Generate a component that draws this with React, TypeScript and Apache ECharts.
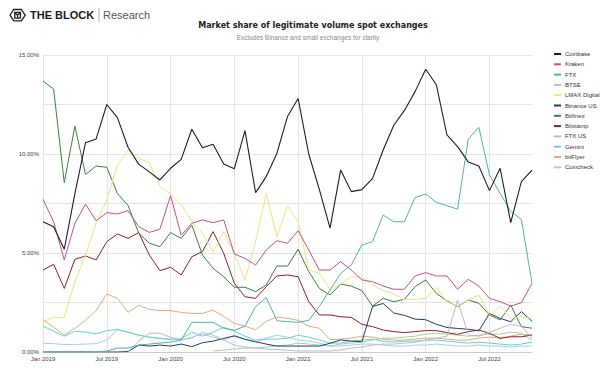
import React, { useEffect, useRef } from "react";
import * as echarts from "echarts";

const months: string[] = [
  "Jan 2019","Feb 2019","Mar 2019","Apr 2019","May 2019","Jun 2019","Jul 2019","Aug 2019","Sep 2019","Oct 2019","Nov 2019","Dec 2019",
  "Jan 2020","Feb 2020","Mar 2020","Apr 2020","May 2020","Jun 2020","Jul 2020","Aug 2020","Sep 2020","Oct 2020","Nov 2020","Dec 2020",
  "Jan 2021","Feb 2021","Mar 2021","Apr 2021","May 2021","Jun 2021","Jul 2021","Aug 2021","Sep 2021","Oct 2021","Nov 2021","Dec 2021",
  "Jan 2022","Feb 2022","Mar 2022","Apr 2022","May 2022","Jun 2022","Jul 2022","Aug 2022","Sep 2022","Oct 2022","Nov 2022",
];

const yTicks = [0, 5, 10, 15];

const coinbase = [6.58, 6.33, 5.19, 8.0, 10.57, 10.76, 12.5, 11.84, 10.34, 9.49, 9.1, 8.69,
  9.28, 9.73, 11.25, 10.32, 10.49, 9.49, 9.26, 11.18, 8.05, 8.86, 10.03, 11.89,
  12.8, 10.0, 8.2, 6.26, 9.19, 8.1, 8.2, 8.77, 10.2, 11.45, 12.2, 13.15,
  14.28, 13.5, 10.96, 10.37, 9.6, 9.39, 8.15, 9.28, 6.53, 8.6, 9.19];
const kraken = [7.71, 6.58, 4.65, 6.5, 7.47, 6.63, 7.04, 6.97, 7.14, 6.33, 6.04, 6.2,
  7.9, 5.9, 6.5, 6.67, 6.53, 6.67, 4.95, 4.73, 4.39, 5.15, 5.62, 5.49,
  6.13, 5.15, 4.14, 4.14, 4.56, 4.14, 3.64, 3.55, 3.33, 3.17, 3.17, 3.84,
  4.01, 3.84, 3.84, 3.17, 3.67, 3.33, 2.71, 2.54, 2.32, 2.49, 3.47];
const ftx = [0, 0, 0, 0, 0, 0, 0.05, 0.2, 0.2, 0.35, 0.4, 0.45,
  0.5, 0.6, 1.5, 1.5, 1.5, 1.2, 1.1, 1.3, 2.29, 2.75, 1.58, 1.53,
  1.5, 1.6, 2.3, 3.13, 3.97, 4.4, 5.4, 5.57, 6.92, 6.58, 6.58, 7.8,
  7.98, 7.56, 7.39, 7.21, 10.74, 11.35, 8.94, 8.01, 7.1, 6.7, 3.47];
const btse = [null, null, null, null, null, null, null, null, 0.02, 0.55, 0.95, 0.95,
  0.75, 0.62, 0.7, 1.0, 0.85, 0.6, 0.35, 0.25, 0.2, 0.15, 0.12, 0.08,
  0.05, 0.05, 0.05, 0.05, 0.1, 0.2, 0.25, 0.35, 0.4, 0.4, 0.45, 0.5,
  0.6, 0.7, 0.8, 2.63, 0.85, 0.8, 1.0, 1.2, 1.4, 1.3, 0.7];
const lmax = [1.53, 1.75, 1.75, 3.55, 4.9, 6.53, 7.68, 9.44, 10.2, 9.78, 9.56, 8.35,
  7.98, 7.45, 6.6, 6.0, 5.07, 6.08, 4.98, 3.64, 5.6, 8.0, 5.82, 7.37,
  6.58, 4.14, 3.97, 3.13, 3.43, 3.8, 3.77, 3.38, 3.1, 2.93, 2.63, 2.66,
  2.71, 3.27, 2.54, 2.32, 2.63, 2.88, 1.87, 2.32, 1.7, 1.78, 1.7];
const binanceUS = [0, 0, 0, 0, 0, 0, 0, 0, 0.02, 0.35, 0.3, 0.35,
  0.3, 0.4, 0.27, 0.47, 0.55, 0.69, 0.81, 0.64, 0.52, 0.4, 0.3, 0.3,
  0.3, 0.3, 0.3, 0.44, 0.61, 0.55, 0.52, 2.3, 2.45, 1.97, 1.85, 1.66,
  1.63, 1.4, 1.24, 1.19, 1.15, 1.07, 1.95, 1.7, 1.53, 2.04, 1.55];
const bitfinex = [13.69, 13.28, 8.55, 11.41, 8.97, 9.39, 9.33, 8.01, 7.4, 6.0, 5.5, 5.32,
  6.03, 5.74, 6.41, 4.9, 4.23, 3.8, 3.27, 3.27, 3.05, 3.38, 4.34, 4.34,
  5.19, 4.06, 3.21, 2.88, 3.43, 3.33, 3.1, 2.32, 2.71, 2.54, 2.66, 3.3,
  3.64, 2.96, 2.58, 2.29, 2.63, 2.46, 1.87, 1.62, 2.37, 1.28, 1.2];
const bitstamp = [4.14, 4.43, 3.21, 4.68, 4.85, 4.65, 5.57, 5.96, 5.74, 6.03, 4.9, 4.11,
  4.28, 3.89, 4.81, 5.07, 6.08, 4.98, 3.47, 2.79, 2.71, 3.3, 3.84, 3.89,
  3.8, 2.54, 1.87, 1.87, 1.78, 1.75, 1.4, 1.28, 1.11, 1.03, 0.98, 1.03,
  1.08, 1.08, 0.98, 0.89, 1.03, 1.11, 0.94, 0.69, 0.77, 0.77, 0.86];
const ftxUS = [null, null, null, null, null, null, null, null, null, null, null, null,
  null, null, null, null, 0.05, 0.1, 0.15, 0.2, 0.2, 0.25, 0.3, 0.35,
  0.45, 0.4, 0.35, 0.3, 0.4, 0.45, 0.5, 0.6, 0.7, 0.7, 0.75, 0.8,
  0.9, 0.95, 0.9, 0.85, 0.8, 0.85, 0.9, 0.9, 1.0, 0.95, 0.6];
const gemini = [1.31, 1.05, 0.8, 1.05, 1.0, 0.92, 1.08, 1.14, 1.0, 0.85, 0.75, 0.68,
  0.64, 0.67, 1.0, 0.8, 1.0, 1.25, 1.05, 0.8, 0.6, 0.65, 0.65, 0.7,
  0.85, 0.75, 0.6, 0.45, 0.45, 0.55, 0.6, 0.65, 0.55, 0.5, 0.55, 0.55,
  0.6, 0.6, 0.55, 0.5, 0.45, 0.5, 0.45, 0.4, 0.35, 0.4, 0.5];
const bitFlyer = [1.62, 1.25, 0.86, 1.2, 1.6, 2.09, 2.93, 2.71, 2.0, 2.36, 2.15, 2.09,
  2.09, 2.0, 1.95, 1.95, 2.12, 1.8, 1.45, 1.3, 1.12, 1.55, 1.77, 1.7,
  1.6, 1.3, 1.2, 0.62, 0.65, 0.7, 0.8, 0.75, 0.65, 0.6, 0.6, 0.65,
  0.7, 0.7, 0.65, 0.6, 0.6, 0.7, 0.75, 0.7, 0.8, 0.9, 0.85];
const coincheck = [0.44, 0.42, 0.38, 0.38, 0.4, 0.42, 0.6, 1.12, 1.0, 0.85, 0.75, 0.7,
  0.65, 0.6, 0.75, 0.9, 0.75, 0.6, 0.85, 0.65, 0.5, 0.7, 0.85, 0.75,
  0.6, 0.55, 0.45, 0.3, 0.3, 0.35, 0.4, 0.4, 0.35, 0.3, 0.3, 0.35,
  0.35, 0.4, 0.35, 0.3, 0.3, 0.35, 0.3, 0.3, 0.25, 0.3, 0.3];

const seriesNames = ["Coinbase", "Kraken", "FTX", "BTSE", "LMAX Digital", "Binance US", "Bitfinex", "Bitstamp", "FTX US", "Gemini", "bitFlyer", "Coincheck"];
const seriesData = [coinbase, kraken, ftx, btse, lmax, binanceUS, bitfinex, bitstamp, ftxUS, gemini, bitFlyer, coincheck];
const seriesColors = ["#1c1c2a", "#c4527f", "#4db3a6", "#b9b9d0", "#ece47c", "#1f3b6a", "#3f7d3a", "#8f1f24", "#9bd69a", "#5fd3d6", "#e9a57c", "#a7cde2"];

echarts.graphic.registerShape(
  "blocklogo",
  echarts.graphic.extendPath(
    "M4 0 L12 0 L16 6 L12 12 L4 12 L0 6 Z M5 3 L11 3 L11 9 L5 9 Z M5 3 L8 6 L11 3 M8 6 L8 9",
    {}
  ) as any
);

export default function App() {
  const ref = useRef<HTMLDivElement>(null);
  useEffect(() => {
    if (!ref.current) return;
    const chart = echarts.init(ref.current, undefined, { renderer: "svg" });
    const font = "'Liberation Sans', Arial, sans-serif";
    chart.setOption({
      animation: false,
      backgroundColor: "#ffffff",
      textStyle: { fontFamily: font },
      graphic: [
        {
          type: "blocklogo",
          x: 10,
          y: 9.5,
          scaleX: 0.95,
          scaleY: 0.95,
          style: { fill: "none", stroke: "#222", lineWidth: 1.4 },
        },
        {
          type: "text",
          left: 30,
          top: 9,
          style: { text: "THE BLOCK", fill: "#1a1a1a", font: `bold 11px ${font}` },
        },
        {
          type: "line",
          shape: { x1: 99, y1: 8, x2: 99, y2: 22 },
          style: { stroke: "#999", lineWidth: 0.8 },
        },
        {
          type: "text",
          left: 103,
          top: 9,
          style: { text: "Research", fill: "#555", font: `11px ${font}` },
        },
        {
          type: "text",
          x: 308,
          y: 37.5,
          style: {
            text: "Excludes Binance and small exchanges for clarity",
            fill: "#8a8a8a",
            font: `6.5px ${font}`,
            textAlign: "center",
            textVerticalAlign: "middle",
          },
        },
      ],
      title: {
        text: "Market share of legitimate volume spot exchanges",
        left: 308,
        textAlign: "center",
        top: 16,
        textStyle: { fontFamily: "'DejaVu Sans', sans-serif", fontWeight: "bold", fontSize: 8, color: "#222" },
      },
      legend: {
        orient: "vertical",
        left: 549,
        top: 46,
        itemWidth: 7,
        itemHeight: 2,
        itemGap: 4.3,
        icon: "rect",
        data: seriesNames,
        textStyle: { fontSize: 6, color: "#333", fontFamily: font, padding: [0, 0, 0, -1] },
      },
      grid: { left: 43, right: 68, top: 55, bottom: 25, containLabel: false },
      xAxis: {
        type: "category",
        data: months,
        boundaryGap: false,
        axisLine: { lineStyle: { color: "#cccccc", width: 1 } },
        axisTick: { show: false },
        axisLabel: { interval: 5, fontSize: 6, color: "#444", margin: 4, fontFamily: font },
        splitLine: { show: true, interval: 5, lineStyle: { color: "#e3e3e8", width: 1 } },
      },
      yAxis: {
        type: "value",
        min: 0,
        max: 15,
        interval: 2.5,
        axisLine: { show: false },
        axisTick: { show: false },
        axisLabel: {
          fontSize: 6,
          color: "#444",
          margin: 4,
          fontFamily: font,
          formatter: (v: number) => (yTicks.includes(v) ? v.toFixed(2) + "%" : ""),
        },
        splitLine: { lineStyle: { color: "#e3e3e8", width: 1 } },
      },
      series: seriesNames.map((name, i) => ({
        name,
        type: "line",
        data: seriesData[i],
        symbol: "none",
        connectNulls: false,
        z: 2 + (seriesNames.length - i),
        lineStyle: { color: seriesColors[i], width: i === 0 ? 1.1 : 1.0 },
        itemStyle: { color: seriesColors[i] },
      })),
    });
    return () => chart.dispose();
  }, []);
  return <div ref={ref} style={{ position: "fixed", left: 0, top: 0, width: 600, height: 377 }} />;
}
